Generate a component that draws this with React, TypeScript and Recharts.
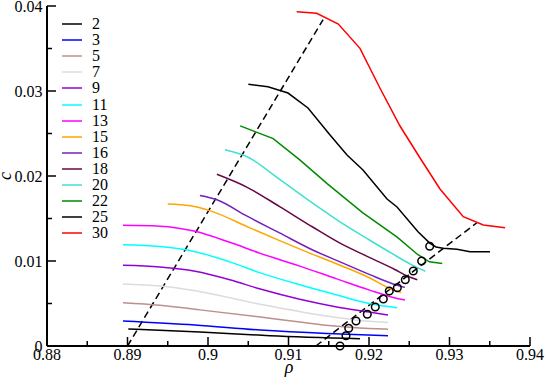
import React from 'react';
import { ComposedChart, Line, Scatter, XAxis, YAxis, Legend } from 'recharts';

type P = [number, number];

// series values: [rho, c]
const curve2: P[] = [[0.8901, 0.0020], [0.89901, 0.00165], [0.9077, 0.00121], [0.91889, 0.00086]];
const curve3: P[] = [[0.88944, 0.00294], [0.89839, 0.00247], [0.90646, 0.00188], [0.91478, 0.00147], [0.92236, 0.00121]];
const curve5: P[] = [[0.88944, 0.00509], [0.8940, 0.00480], [0.8990, 0.00425], [0.9065, 0.00340], [0.9114, 0.00282], [0.9160, 0.00232], [0.9200, 0.00207], [0.92236, 0.00198]];
const curve7: P[] = [[0.88944, 0.00729], [0.8940, 0.00705], [0.8984, 0.00650], [0.9065, 0.00490], [0.9114, 0.00405], [0.9160, 0.00335], [0.9200, 0.00290], [0.92236, 0.00276]];
const curve9: P[] = [[0.88944, 0.0095], [0.8940, 0.0093], [0.8984, 0.0088], [0.9027, 0.0078], [0.9065, 0.0067], [0.9114, 0.0055], [0.9160, 0.0046], [0.9200, 0.0040], [0.92236, 0.00365]];
const curve11: P[] = [[0.88944, 0.0119], [0.8940, 0.0117], [0.8984, 0.0111], [0.9027, 0.0099], [0.9065, 0.0086], [0.9114, 0.0072], [0.9160, 0.0060], [0.9200, 0.0050], [0.92348, 0.0045]];
const curve13: P[] = [[0.88944, 0.0142], [0.8940, 0.0141], [0.8984, 0.0135], [0.9027, 0.0122], [0.9065, 0.0109], [0.9114, 0.0094], [0.9160, 0.0079], [0.9200, 0.0066], [0.9230, 0.0057], [0.92447, 0.0054]];
const curve15: P[] = [[0.8950, 0.0167], [0.8978, 0.0165], [0.9003, 0.0159], [0.9052, 0.0139], [0.9089, 0.0124], [0.9127, 0.0109], [0.9164, 0.0095], [0.9201, 0.0080], [0.9225, 0.0068], [0.9240, 0.0063]];
const curve16: P[] = [[0.8990, 0.0177], [0.9011, 0.0172], [0.9048, 0.0153], [0.9089, 0.0133], [0.9130, 0.0113], [0.9164, 0.0099], [0.9201, 0.0084], [0.9230, 0.0073], [0.92447, 0.0069]];
const curve18: P[] = [[0.9011, 0.0202], [0.9048, 0.0187], [0.9089, 0.0164], [0.9130, 0.0140], [0.9164, 0.0121], [0.9201, 0.0104], [0.9232, 0.0090], [0.9248, 0.0082], [0.9260, 0.0078]];
const curve20: P[] = [[0.9021, 0.0231], [0.9048, 0.0223], [0.9089, 0.0196], [0.9130, 0.0168], [0.9164, 0.0146], [0.9200, 0.0125], [0.9230, 0.0108], [0.9252, 0.0096], [0.9270, 0.0088]];
const curve22: P[] = [[0.9040, 0.0259], [0.9081, 0.0244], [0.9114, 0.0219], [0.9148, 0.0191], [0.9192, 0.0157], [0.9235, 0.0128], [0.9260, 0.0108], [0.9275, 0.0099], [0.9291, 0.0097]];
const curve25: P[] = [[0.90501, 0.03079], [0.90745, 0.03051], [0.90994, 0.02976], [0.91242, 0.028], [0.91516, 0.02482], [0.91727, 0.02247], [0.91925, 0.02071], [0.92224, 0.01729], [0.92348, 0.01635], [0.92609, 0.01345], [0.92758, 0.01208], [0.92832, 0.01165], [0.92919, 0.01149], [0.93093, 0.01138], [0.93255, 0.01109], [0.93503, 0.01109]];
const curve30: P[] = [[0.91102, 0.03933], [0.9135, 0.03914], [0.91619, 0.03788], [0.91888, 0.03502], [0.92137, 0.03032], [0.92385, 0.02588], [0.92634, 0.02212], [0.92882, 0.01847], [0.93171, 0.01521], [0.9342, 0.01424], [0.9369, 0.01392]];

const dashLeft: P[] = [[0.89, 0], [0.9143, 0.0384]];
const dashRight: P[] = [[0.9134, 0], [0.9334, 0.0145]];
const circles: P[] = [[0.9164, 0.0], [0.91714, 0.00121], [0.91748, 0.00208], [0.91839, 0.00294], [0.91979, 0.00373], [0.92078, 0.00459], [0.92178, 0.00553], [0.92252, 0.00647], [0.92352, 0.00686], [0.92451, 0.0078], [0.9255, 0.00882], [0.92654, 0.01], [0.92754, 0.01173]];

const xMajor = [0.88, 0.89, 0.9, 0.91, 0.92, 0.93, 0.94];
const xMinor = [0.885, 0.895, 0.905, 0.915, 0.925, 0.935];
const yMajor = [0, 0.01, 0.02, 0.03, 0.04];
const yMinor = [0.005, 0.015, 0.025, 0.035];

const series = [
  { name: '2', color: '#000000', pts: curve2, kind: 'monotone' },
  { name: '3', color: '#0000ff', pts: curve3, kind: 'monotone' },
  { name: '5', color: '#bc8f8f', pts: curve5, kind: 'monotone' },
  { name: '7', color: '#dcdcdc', pts: curve7, kind: 'monotone' },
  { name: '9', color: '#9400d3', pts: curve9, kind: 'monotone' },
  { name: '11', color: '#00ffff', pts: curve11, kind: 'monotone' },
  { name: '13', color: '#ff00ff', pts: curve13, kind: 'monotone' },
  { name: '15', color: '#ffa500', pts: curve15, kind: 'monotone' },
  { name: '16', color: '#7221bc', pts: curve16, kind: 'monotone' },
  { name: '18', color: '#670748', pts: curve18, kind: 'monotone' },
  { name: '20', color: '#40e0d0', pts: curve20, kind: 'monotone' },
  { name: '22', color: '#008b00', pts: curve22, kind: 'linear' },
  { name: '25', color: '#000000', pts: curve25, kind: 'linear' },
  { name: '30', color: '#ff0000', pts: curve30, kind: 'linear' },
];

const rows = (p: P[]) => p.map(([x, y]) => ({ x, y }));
const FONT = "'Liberation Serif', 'Times New Roman', serif";
const MAJ = 9;
const MIN = 5;

const BottomTick = (props: any) => {
  const { x, y, payload } = props;
  const major = xMajor.includes(payload.value);
  return (
    <g>
      <line x1={x} x2={x} y1={y} y2={y - (major ? MAJ : MIN)} stroke="#000" strokeWidth={1.5} />
      {major && (
        <text x={x} y={y + 14} textAnchor="middle" style={{ fontFamily: FONT, fontSize: 16 }} fill="#000">
          {String(payload.value)}
        </text>
      )}
    </g>
  );
};
const TopTick = (props: any) => {
  const { x, y, payload } = props;
  const major = xMajor.includes(payload.value);
  return <line x1={x} x2={x} y1={y} y2={y + (major ? MAJ : MIN)} stroke="#000" strokeWidth={1.5} />;
};
const LeftTick = (props: any) => {
  const { x, y, payload } = props;
  const major = yMajor.includes(payload.value);
  return (
    <g>
      <line x1={x} x2={x + (major ? MAJ : MIN)} y1={y} y2={y} stroke="#000" strokeWidth={1.5} />
      {major && (
        <text x={x - 4.5} y={y} dy="0.35em" textAnchor="end" style={{ fontFamily: FONT, fontSize: 16 }} fill="#000">
          {String(payload.value)}
        </text>
      )}
    </g>
  );
};
const RightTick = (props: any) => {
  const { x, y, payload } = props;
  const major = yMajor.includes(payload.value);
  return <line x1={x} x2={x - (major ? MAJ : MIN)} y1={y} y2={y} stroke="#000" strokeWidth={1.5} />;
};

const renderLegend = (props: any) => {
  const payload: any[] = props.payload || [];
  const ordered = series.map((s) => payload.find((p) => p.value === s.name)).filter(Boolean);
  return (
    <div>
      {ordered.map((e: any) => (
        <div key={e.value} style={{ display: 'flex', alignItems: 'center', height: 16.1 }}>
          <svg width={20} height={4} style={{ display: 'block' }}>
            <line x1={0} x2={20} y1={2} y2={2} stroke={e.color} strokeWidth={1.5} />
          </svg>
          <span style={{ marginLeft: 10, fontFamily: FONT, fontSize: 16, lineHeight: '16px', color: '#000' }}>{e.value}</span>
        </div>
      ))}
    </div>
  );
};

const CircleShape = (props: any) => (
  <circle cx={props.cx} cy={props.cy} r={3.8} fill="none" stroke="#000" strokeWidth={1.5} />
);

export default function App() {
  const axisLine = { stroke: '#000', strokeWidth: 2 };
  return (
    <div style={{ position: 'absolute', left: 0, top: 0, background: '#fff', fontFamily: FONT }}>
      <ComposedChart width={545} height={382} margin={{ top: 6, right: 15, bottom: 0, left: 0 }}>
        <XAxis xAxisId={0} dataKey="x" type="number" domain={[0.88, 0.94]} ticks={[...xMajor, ...xMinor]} interval={0}
          tick={<BottomTick />} tickLine={false} tickSize={0} tickMargin={0} axisLine={axisLine} height={36} />
        <XAxis xAxisId="top" orientation="top" dataKey="x" type="number" domain={[0.88, 0.94]} ticks={[...xMajor, ...xMinor]} interval={0}
          tick={<TopTick />} tickLine={false} tickSize={0} tickMargin={0} axisLine={axisLine} height={0} />
        <YAxis yAxisId={0} type="number" domain={[0, 0.04]} ticks={[...yMajor, ...yMinor]} interval={0}
          tick={<LeftTick />} tickLine={false} tickSize={0} tickMargin={0} axisLine={axisLine} width={47} />
        <YAxis yAxisId="right" orientation="right" type="number" domain={[0, 0.04]} ticks={[...yMajor, ...yMinor]} interval={0}
          tick={<RightTick />} tickLine={false} tickSize={0} tickMargin={0} axisLine={axisLine} width={0} />
        <Legend layout="vertical" align="center" verticalAlign="middle" content={renderLegend}
          wrapperStyle={{ left: 62, top: 16, width: 70, height: 230 }} />
        <Line data={rows(dashLeft)} dataKey="y" name="dashLeft" stroke="#000" strokeWidth={1.5} strokeDasharray="7 4"
          dot={false} isAnimationActive={false} legendType="none" type="linear" />
        <Line data={rows(dashRight)} dataKey="y" name="dashRight" stroke="#000" strokeWidth={1.5} strokeDasharray="7 4"
          dot={false} isAnimationActive={false} legendType="none" type="linear" />
        {series.map((s) => (
          <Line key={s.name} data={rows(s.pts)} dataKey="y" name={s.name} stroke={s.color} strokeWidth={1.5}
            dot={false} isAnimationActive={false} type={s.kind as any} />
        ))}
        <Scatter data={rows(circles)} dataKey="y" name="circles" legendType="none" isAnimationActive={false} shape={<CircleShape />} />
      </ComposedChart>
      <svg width={545} height={382} style={{ position: 'absolute', left: 0, top: 0, pointerEvents: 'none' }}>
        <text x={11} y={176} transform="rotate(-90 11 176)" textAnchor="middle" style={{ fontFamily: FONT, fontStyle: 'italic', fontSize: 18 }} fill="#000">c</text>
        <text x={289} y={373} textAnchor="middle" style={{ fontFamily: FONT, fontStyle: 'italic', fontSize: 18 }} fill="#000">ρ</text>
      </svg>
    </div>
  );
}
